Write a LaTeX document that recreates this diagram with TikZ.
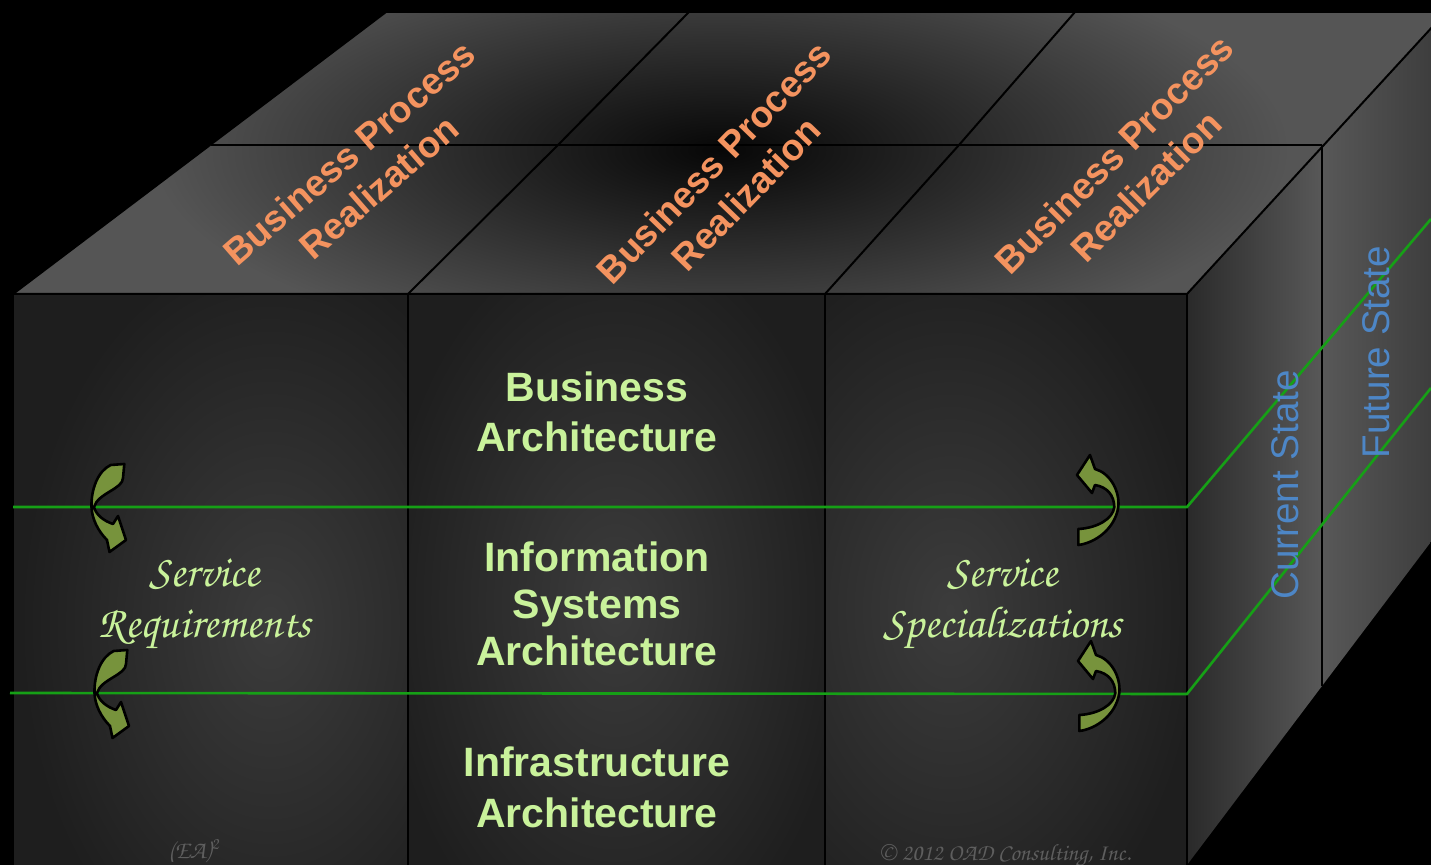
\documentclass[tikz,border=0pt]{standalone}
\usepackage{fontspec}
\setmainfont{Liberation Sans}
\newfontfamily\chorus{texgyrechorus-mediumitalic.otf}
\definecolor{orangetxt}{HTML}{F4935F}
\definecolor{greentxt}{HTML}{C9F29B}
\definecolor{bluetxt}{HTML}{4D86C6}
\definecolor{gline}{HTML}{16A016}
\definecolor{arrowgreen}{HTML}{77933C}
\definecolor{copygray}{HTML}{5E5E5E}
\definecolor{topouter}{HTML}{555555}
\definecolor{topinner}{HTML}{070707}
\definecolor{frontbase}{HTML}{1E1E1E}
\definecolor{frontglow}{HTML}{3C3C3C}
\definecolor{rdark}{HTML}{2A2A2A}
\definecolor{rlight}{HTML}{585858}
\definecolor{rmid}{HTML}{3A3A3A}
\tikzset{
  cubeline/.style={draw=black, line width=1pt},
  greenline/.style={draw=gline, line width=1.3pt},
  toptxt/.style={text=orangetxt, inner sep=0pt, align=center, font=\bfseries\fontsize{18.5}{22.5}\selectfont},
  fronttxt/.style={text=greentxt, inner sep=0pt, align=center, font=\bfseries\fontsize{20.5}{25}\selectfont},
  sidetxt/.style={text=bluetxt, inner sep=0pt, font=\fontsize{19.3}{23}\selectfont, rotate=90},
  scripttxt/.style={text=greentxt, inner sep=0pt, align=center, font=\chorus\fontsize{22.4}{25.5}\selectfont},
  copytxt/.style={text=copygray, inner sep=0pt, font=\chorus\fontsize{11.7}{13}\selectfont},
  arrowshape/.style={fill=arrowgreen, draw=black, line width=1.3pt, line join=round},
  crvleft/.pic={
    \filldraw[arrowshape]
      (18.7,-42) .. controls (6,-36) and (-1,-18) .. (-0.5,0)
      .. controls (0,12) and (6,24) .. (15,33)
      -- (17.5,45) -- (34,33) -- (26,9) -- (21,17)
      .. controls (12,14) and (4,8) .. (2,0)
      .. controls (6,-14) and (31,-18) .. (31,-29)
      -- (32.3,-43) -- cycle;
  },
  crvright/.pic={
    \filldraw[arrowshape]
      (-36.7,22) -- (-36.7,38)
      .. controls (-20,36) and (0,22) .. (3.3,0)
      .. controls (5,-16) and (-5,-34) .. (-20,-38)
      -- (-25,-52) -- (-38,-32) -- (-23,-14) -- (-20,-22)
      .. controls (-8,-20) and (-1,-12) .. (-0.7,0)
      .. controls (-2,12) and (-18,21) .. (-36.7,22) -- cycle;
  }
}
\begin{document}
\begin{tikzpicture}[x=0.5pt,y=-0.5pt]
\useasboundingbox (0,0) rectangle (1431,865);
\fill[black] (0,0) rectangle (1431,865);
\begin{scope}
\clip (0,0) rectangle (1431,865);
% top face
\begin{scope}
  \clip (13,294) -- (386,12) -- (1446,12) -- (1187,294) -- cycle;
  \fill[topouter] (0,0) rectangle (1446,300);
  \shade[inner color=topinner, outer color=topouter] (150,-60) rectangle (1290,360);
\end{scope}
% front face
\fill[frontbase] (13,294) rectangle (1187,870);
\begin{scope}
  \clip (13,294) rectangle (408,870);
  \shade[inner color=frontglow, outer color=frontbase] (20,250) rectangle (520,1000);
\end{scope}
\begin{scope}
  \clip (408,294) rectangle (825,870);
  \shade[inner color=frontglow, outer color=frontbase] (380,230) rectangle (850,980);
\end{scope}
\begin{scope}
  \clip (825,294) rectangle (1187,870);
  \shade[inner color=frontglow, outer color=frontbase] (700,240) rectangle (1200,980);
\end{scope}
% right face, two parts
\shade[left color=rdark, right color=rlight] (1187,294) -- (1322,147) -- (1322,686) -- (1187,865) -- cycle;
\shade[left color=rlight, right color=rmid] (1322,147) -- (1446,12) -- (1446,522) -- (1322,686) -- cycle;
% cube edges
\draw[cubeline] (13,294) -- (386,12) -- (1446,12);
\draw[cubeline] (13,294) -- (1187,294) -- (1446,12);
\draw[cubeline] (211,145) -- (1322,145);
\draw[cubeline] (408,294) -- (558,145) -- (689,12);
\draw[cubeline] (825,294) -- (959,145) -- (1075,12);
\draw[cubeline] (13,294) -- (13,870);
\draw[cubeline] (408,294) -- (408,870);
\draw[cubeline] (825,294) -- (825,870);
\draw[cubeline] (1187,294) -- (1187,870);
\draw[cubeline] (1322,145) -- (1322,686);
% green layer lines
\draw[greenline] (13,507) -- (1187,507) -- (1431,219);
\draw[greenline] (10,693) -- (1187,694) -- (1431,388);
\end{scope}
% top labels
\node[toptxt, rotate=41] (bpr1) at (364,170) {Business Process\\Realization};
\node[toptxt, rotate=46] (bpr2) at (730,178) {Business Process\\Realization};
\node[toptxt, rotate=45] (bpr3) at (1130,170) {Business Process\\Realization};
% front labels
\node[fronttxt] (ba) at (597,412) {Business\\Architecture};
\node[fronttxt, font=\bfseries\fontsize{20.5}{23.5}\selectfont] (isa) at (597,604) {Information\\Systems\\Architecture};
\node[fronttxt, font=\bfseries\fontsize{20.5}{25.5}\selectfont] (ia) at (597,787) {Infrastructure\\Architecture};
\node[scripttxt] (sr) at (205,604) {Service\\Requirements};
\node[scripttxt] (ss) at (1003,604) {Service\\Specializations};
% side labels
\node[sidetxt] (cs) at (1285,485) {Current State};
\node[sidetxt] (fs) at (1376,352) {Future State};
% small marks
\node[copytxt, font=\chorus\fontsize{12.5}{14}\selectfont] (ea) at (194,851) {(EA)\textsuperscript{2}};
\node[copytxt] (cp) at (1005,855) {\copyright{} 2012 OAD Consulting, Inc.};
% curved arrows
\pic at (92,507) {crvleft};
\pic at (95,693) {crvleft};
\pic at (1115,507) {crvright};
\pic at (1116,693) {crvright};
\end{tikzpicture}
\end{document}
